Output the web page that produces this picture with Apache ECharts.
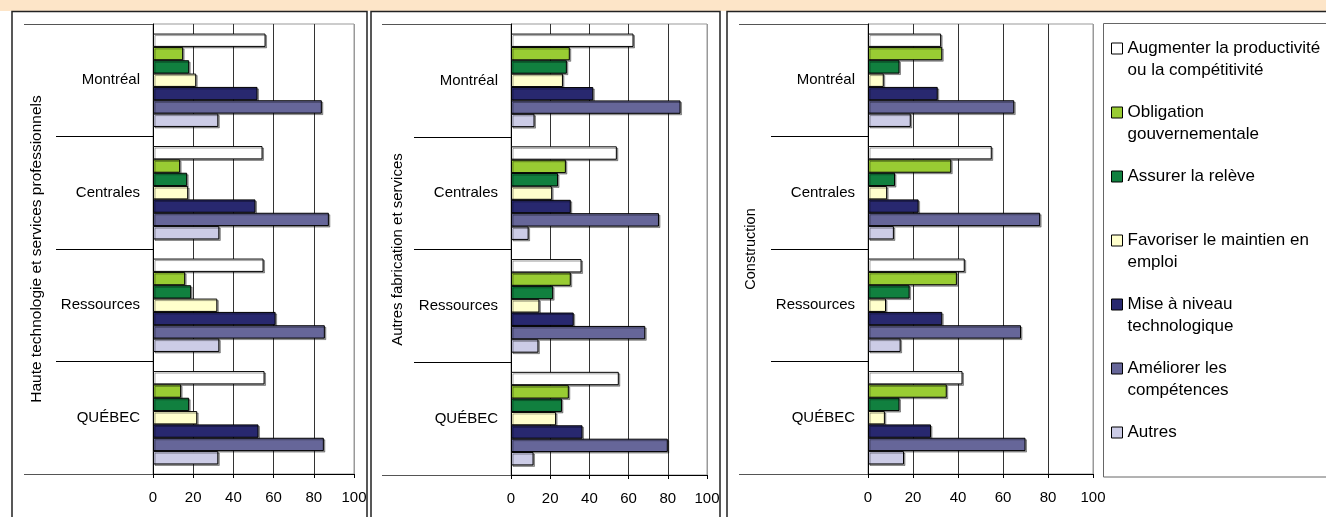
<!DOCTYPE html>
<html>
<head>
<meta charset="utf-8">
<script src="https://cdn.jsdelivr.net/npm/echarts@6/dist/echarts.min.js"></script>
<style>html,body{margin:0;padding:0;background:#fff;}#c{width:1326px;height:517px;}</style>
</head>
<body>
<div id="c"></div>
<script>
// ---- data ----
const categories = ['Montréal', 'Centrales', 'Ressources', 'QUÉBEC'];
const seriesNames = [
  'Augmenter la productivité\nou la compétitivité',
  'Obligation\ngouvernementale',
  'Assurer la relève',
  'Favoriser le maintien en\nemploi',
  'Mise à niveau\ntechnologique',
  'Améliorer les\ncompétences',
  'Autres'
];
const panelTitles = ['Haute technologie et services professionnels', 'Autres fabrication et services', 'Construction'];
const xTicks = [0, 20, 40, 60, 80, 100];

// Panel 1 : Haute technologie et services professionnels
const hauteAugmenter   = [56, 54.5, 55, 55.5];
const hauteObligation  = [15, 13.5, 16, 14];
const hauteReleve      = [18, 17, 19, 18];
const hauteMaintien    = [21.5, 17.5, 32, 22];
const hauteMiseNiveau  = [52, 51, 61, 52.5];
const hauteCompetences = [84, 87.5, 85.5, 85];
const hauteAutres      = [32.5, 33, 33, 32.5];

// Panel 2 : Autres fabrication et services
const fabAugmenter   = [62.5, 54, 36, 55];
const fabObligation  = [30, 28, 30.5, 29.5];
const fabReleve      = [28.5, 24, 21.5, 26];
const fabMaintien    = [26.5, 21, 14.5, 23];
const fabMiseNiveau  = [42, 30.5, 32, 36.5];
const fabCompetences = [86.5, 75.5, 68.5, 80];
const fabAutres      = [12, 9, 14, 11.5];

// Panel 3 : Construction
const constAugmenter   = [32.5, 55, 43, 42];
const constObligation  = [33, 37, 39.5, 35];
const constReleve      = [14, 12, 18.5, 14];
const constMaintien    = [7, 8.5, 8, 7.5];
const constMiseNiveau  = [31, 22.5, 33, 28];
const constCompetences = [65, 76.5, 68, 70];
const constAutres      = [19, 11.5, 14.5, 16];

const panelData = [
  [hauteAugmenter, hauteObligation, hauteReleve, hauteMaintien, hauteMiseNiveau, hauteCompetences, hauteAutres],
  [fabAugmenter, fabObligation, fabReleve, fabMaintien, fabMiseNiveau, fabCompetences, fabAutres],
  [constAugmenter, constObligation, constReleve, constMaintien, constMiseNiveau, constCompetences, constAutres]
];

// ---- styles ----
const colors = ['#FFFFFF', '#99CC33', '#11803F', '#FFFFCC', '#28286F', '#666699', '#CCCCE6'];
const FONT = "'Liberation Sans', Arial, sans-serif";
const gridsPos = [
  {left: 153, top: 24, width: 201, height: 450, nameGap: 108, nameSize: 15.5},
  {left: 511, top: 24, width: 196, height: 451, nameGap: 106, nameSize: 15},
  {left: 868, top: 24, width: 225, height: 450, nameGap: 110, nameSize: 14.5}
];

const grid = [], xAxis = [], yAxis = [], series = [];
gridsPos.forEach((g, i) => {
  grid.push({left: g.left, top: g.top, width: g.width, height: g.height, show: true,
    borderColor: '#999', borderWidth: 1, backgroundColor: 'transparent', containLabel: false, outerBoundsMode: 'none'});
  xAxis.push({gridIndex: i, type: 'value', min: xTicks[0], max: xTicks[xTicks.length - 1], interval: 20,
    axisLine: {show: true, lineStyle: {color: '#000', width: 1}},
    axisTick: {show: true, length: 4, lineStyle: {color: '#000'}},
    axisLabel: {fontSize: 15, color: '#000', margin: 16, fontFamily: FONT},
    splitLine: {show: true, lineStyle: {color: ['#000', '#333', '#333', '#333', '#333', '#999'], width: 1}}
  });
  yAxis.push({gridIndex: i, type: 'category', data: categories, inverse: true, position: 'left',
    axisLine: {show: true, lineStyle: {color: '#000', width: 1}},
    axisTick: {show: true, length: 97, lineStyle: {color: '#000'}},
    axisLabel: {fontSize: 15, color: '#000', margin: 13, fontFamily: FONT},
    name: panelTitles[i], nameLocation: 'middle', nameGap: g.nameGap, nameRotate: 90,
    nameTextStyle: {fontSize: g.nameSize, color: '#000', fontFamily: FONT}
  });
  // outer bracket of the multi-level category axis (top and bottom lines)
  yAxis.push({gridIndex: i, type: 'category', data: [''], position: 'left',
    axisLine: {show: false}, axisLabel: {show: false}, splitLine: {show: false},
    axisTick: {show: true, length: 129, lineStyle: {color: '#555'}}
  });
  panelData[i].forEach((vals, s) => {
    series.push({type: 'bar', name: seriesNames[s], xAxisIndex: i, yAxisIndex: 2 * i,
      data: vals, barGap: '0%', barCategoryGap: '17%',
      itemStyle: {color: colors[s], borderColor: '#000', borderWidth: 1,
        shadowColor: 'rgba(0,0,0,0.35)', shadowOffsetX: 1.5, shadowOffsetY: 1.5, shadowBlur: 0},
      emphasis: {disabled: true}
    });
  });
});

const option = {
  animation: false,
  backgroundColor: '#fff',
  textStyle: {fontFamily: FONT},
  grid, xAxis, yAxis, series,
  legend: {
    orient: 'vertical', left: 1111, top: 37, padding: 0,
    itemWidth: 11, itemHeight: 44, itemGap: 19,
    icon: 'path://M0,0M0,44M0,5.5h11v11h-11Z',
    data: seriesNames,
    itemStyle: {borderColor: '#000', borderWidth: 1},
    formatter: n => n.indexOf('\n') < 0 ? n + '\n ' : n,
    textStyle: {fontSize: 17, lineHeight: 22, color: '#000', fontFamily: FONT},
    selectedMode: false
  },
  graphic: [
    {type: 'rect', z: -10, shape: {x: 0, y: 0, width: 1326, height: 11}, style: {fill: '#FDE5C8'}},
    {type: 'rect', z: -10, shape: {x: 12, y: 11.5, width: 355, height: 530}, style: {fill: 'none', stroke: '#222', lineWidth: 1.5}},
    {type: 'rect', z: -10, shape: {x: 371, y: 11.5, width: 349, height: 530}, style: {fill: 'none', stroke: '#222', lineWidth: 1.5}},
    {type: 'rect', z: -10, shape: {x: 727, y: 11.5, width: 640, height: 530}, style: {fill: 'none', stroke: '#222', lineWidth: 1.5}},
    {type: 'rect', z: -10, shape: {x: 1103.5, y: 23.5, width: 260, height: 453.5}, style: {fill: 'none', stroke: '#666', lineWidth: 1}}
  ]
};
const chart = echarts.init(document.getElementById('c'), null, {renderer: 'canvas'});
chart.setOption(option);
</script>
</body>
</html>
